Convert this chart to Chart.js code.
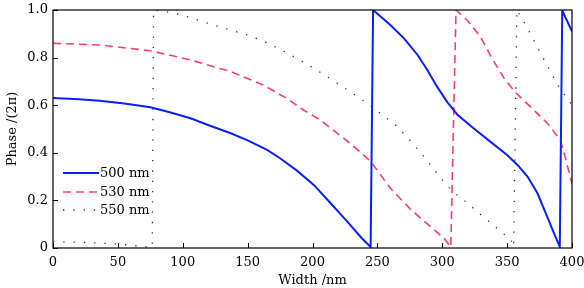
<!DOCTYPE html>
<html lang="en">
  <head>
    <meta charset="utf-8" />
    <title>Phase vs width</title>
    <style>
      * { margin: 0; padding: 0; }
      body { background: #fff; }
      .chartBox { width: 584px; height: 288px; }
    </style>
  </head>
  <body>
    <div class="chartBox">
      <canvas id="myChart"></canvas>
    </div>

    <script src="https://cdn.jsdelivr.net/npm/chart.js"></script>

    <script>
      // series: [width nm, phase /(2pi)]
      const wave500 = [
        [0, 0.63], [20, 0.625], [36, 0.619], [55, 0.607], [75, 0.591], [90, 0.57],
        [106, 0.545], [120, 0.516], [137, 0.482], [150, 0.452], [165, 0.412], [175, 0.377],
        [188, 0.325], [201, 0.265], [214, 0.188], [227, 0.11], [238, 0.041], [244.8, 0.004],
        [246.7, 1.0], [260, 0.937], [270.5, 0.881], [281, 0.811], [288.5, 0.748], [296, 0.678],
        [304, 0.612], [311.7, 0.56], [322, 0.513], [337, 0.447], [350, 0.391], [358, 0.349],
        [365.7, 0.3], [373.4, 0.23], [381, 0.13], [387.3, 0.047], [390.6, 0.005],
        [392.5, 1.0], [394, 0.98], [400, 0.91],
      ];
      const wave530 = [
        [0, 0.86], [36, 0.853], [75, 0.829], [106, 0.79], [137, 0.741], [162, 0.685],
        [180, 0.629], [193, 0.58], [206, 0.538], [229, 0.44], [245, 0.363], [260, 0.251],
        [276, 0.16], [291, 0.09], [301.4, 0.041], [306.6, 0.004], [310.6, 1.0], [319, 0.958],
        [329.4, 0.888], [338, 0.8], [348, 0.71], [357, 0.65], [366.7, 0.6], [381, 0.524],
        [391, 0.454], [395, 0.377], [400, 0.27],
      ];
      const wave550 = [
        [0, 0.027], [21, 0.024], [38, 0.02], [48, 0.017], [57, 0.013], [66, 0.008],
        [76.5, 0.003], [77.5, 1.0], [90, 0.99], [100, 0.978], [115, 0.952], [134, 0.92],
        [150, 0.895], [166, 0.86], [182, 0.815], [198, 0.765], [213, 0.714], [228, 0.66],
        [243, 0.605], [250, 0.575], [264, 0.517], [276, 0.447], [288, 0.37], [299, 0.293],
        [305, 0.255], [311.5, 0.222], [318, 0.195], [325.5, 0.16], [332, 0.129], [340, 0.094],
        [346, 0.064], [352.5, 0.04], [355, 0.005], [357.5, 1.0], [364, 0.94], [376.6, 0.81],
        [389, 0.685], [400, 0.6],
      ];
      const seriesLabels = ["500 nm", "530 nm", "550 nm"];
      const xTicks = [0, 50, 100, 150, 200, 250, 300, 350, 400];
      const yTicks = [0, 0.2, 0.4, 0.6, 0.8, 1.0];

      const serif = "'DejaVu Serif', 'Liberation Serif', serif";
      const toPoints = (arr) => arr.map(([x, y]) => ({ x, y }));

      // data block
      const data = {
        datasets: [
          {
            label: seriesLabels[0],
            data: toPoints(wave500),
            borderColor: "#0a1fff",
            borderWidth: 2,
          },
          {
            label: seriesLabels[1],
            data: toPoints(wave530),
            borderColor: "#ff3a7a",
            borderWidth: 1.6,
            borderDash: [8, 5],
          },
          {
            label: seriesLabels[2],
            data: toPoints(wave550),
            borderColor: "#333333",
            borderWidth: 1.3,
            borderDash: [1.3, 9],
          },
        ],
      };

      // frame, inward ticks and legend inside the plot
      const frameAndLegend = {
        id: "frameAndLegend",
        afterDatasetsDraw(chart) {
          const { ctx, chartArea: { top, bottom, left, right }, scales: { x, y } } = chart;
          ctx.save();
          ctx.strokeStyle = "#000";
          ctx.lineWidth = 1.2;
          ctx.setLineDash([]);
          ctx.strokeRect(left, top, right - left, bottom - top);

          ctx.lineWidth = 1;
          ctx.beginPath();
          xTicks.forEach((v) => {
            const px = Math.round(x.getPixelForValue(v)) + 0.5;
            ctx.moveTo(px, bottom);
            ctx.lineTo(px, bottom - 5);
          });
          yTicks.forEach((v) => {
            const py = Math.round(y.getPixelForValue(v)) + 0.5;
            ctx.moveTo(left, py);
            ctx.lineTo(left + 5, py);
          });
          ctx.stroke();

          // legend
          const rows = [173, 192, 210];
          ctx.font = "13px " + serif;
          ctx.textBaseline = "middle";
          ctx.textAlign = "left";
          chart.data.datasets.forEach((ds, i) => {
            ctx.beginPath();
            ctx.strokeStyle = ds.borderColor;
            ctx.lineWidth = ds.borderWidth;
            ctx.setLineDash(ds.borderDash || []);
            ctx.moveTo(left + 10, rows[i]);
            ctx.lineTo(left + 46, rows[i]);
            ctx.stroke();
            ctx.fillStyle = "#000";
            ctx.fillText(ds.label, left + 47, rows[i] + 1);
          });
          ctx.restore();
        },
      };

      // config block
      const config = {
        type: "line",
        data: data,
        options: {
          responsive: true,
          maintainAspectRatio: false,
          animation: false,
          layout: { padding: { top: 10, right: 12, left: 0, bottom: 0 } },
          elements: { point: { radius: 0 }, line: { tension: 0 } },
          plugins: {
            legend: { display: false },
            tooltip: { enabled: false },
          },
          scales: {
            x: {
              type: "linear",
              min: 0,
              max: 400,
              afterFit: (s) => {
                s.height = 40;
                s.paddingLeft = 0;
                s.paddingRight = 0;
              },
              afterBuildTicks: (s) => { s.ticks = xTicks.map((v) => ({ value: v })); },
              grid: { display: false, drawTicks: false },
              border: { display: false },
              ticks: { color: "#000", font: { family: serif, size: 13 }, padding: 7, maxRotation: 0 },
              title: {
                display: true,
                text: "Width /nm",
                color: "#000",
                font: { family: serif, size: 13 },
                padding: { top: 0, bottom: 0 },
              },
            },
            y: {
              min: 0,
              max: 1,
              afterFit: (s) => {
                s.width = 53;
                s.paddingTop = 0;
                s.paddingBottom = 0;
              },
              afterBuildTicks: (s) => { s.ticks = yTicks.map((v) => ({ value: v })); },
              grid: { display: false, drawTicks: false },
              border: { display: false },
              ticks: {
                color: "#000",
                font: { family: serif, size: 13 },
                padding: 5,
                callback: (v) => (v === 0 ? "0" : v.toFixed(1)),
              },
              title: {
                display: true,
                text: "Phase /(2π)",
                color: "#000",
                font: { family: serif, size: 13 },
                padding: { top: 5, bottom: 0 },
              },
            },
          },
        },
        plugins: [frameAndLegend],
      };

      // init render block
      const myChart = new Chart(document.getElementById("myChart"), config);
    </script>
  </body>
</html>
